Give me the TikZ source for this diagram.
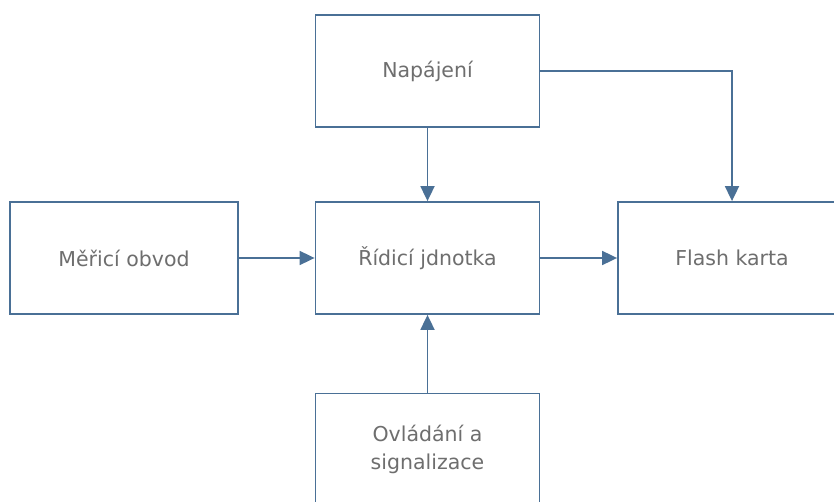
\documentclass[tikz,border=0pt]{standalone}
\usepackage{fontspec}
\setmainfont{DejaVu Sans}
\usepackage{xcolor}
\usetikzlibrary{arrows.meta}

\definecolor{linkblue}{RGB}{74,112,150}
\definecolor{textgray}{RGB}{110,110,110}

\begin{document}
\begin{tikzpicture}[x=1pt, y=-1pt,
  block/.style={draw=linkblue, line width=1.8pt, fill=white, minimum width=224pt, minimum height=112pt,
    inner sep=0pt, align=center, text=textgray, font=\fontsize{20.5}{28}\selectfont},
  link/.style={draw=linkblue, line width=1.8pt, -{Triangle[length=15pt, width=14pt]}}]
  % Fix the page to the picture size
  \useasboundingbox (0,0) rectangle (834,502);
  \clip (0,0) rectangle (834,502);

  % Blocks
  \node[block] (napajeni) at (427.5,71) {Napájení};
  \node[block, minimum width=228pt] (meric) at (124,258) {Měřicí obvod};
  \node[block] (ridici) at (427.5,258) {Řídicí jdnotka};
  \node[block, minimum width=228pt] (flash) at (732,258) {Flash karta};
  \node[block] (ovladani) at (427.5,449.5) {Ovládání a\\signalizace};

  % Connections
  \draw[link] (napajeni) -- (ridici);
  \draw[link] (napajeni.east) -| (flash.north);
  \draw[link] (meric) -- (ridici);
  \draw[link] (ridici) -- (flash);
  \draw[link] (ovladani) -- (ridici);
\end{tikzpicture}
\end{document}
